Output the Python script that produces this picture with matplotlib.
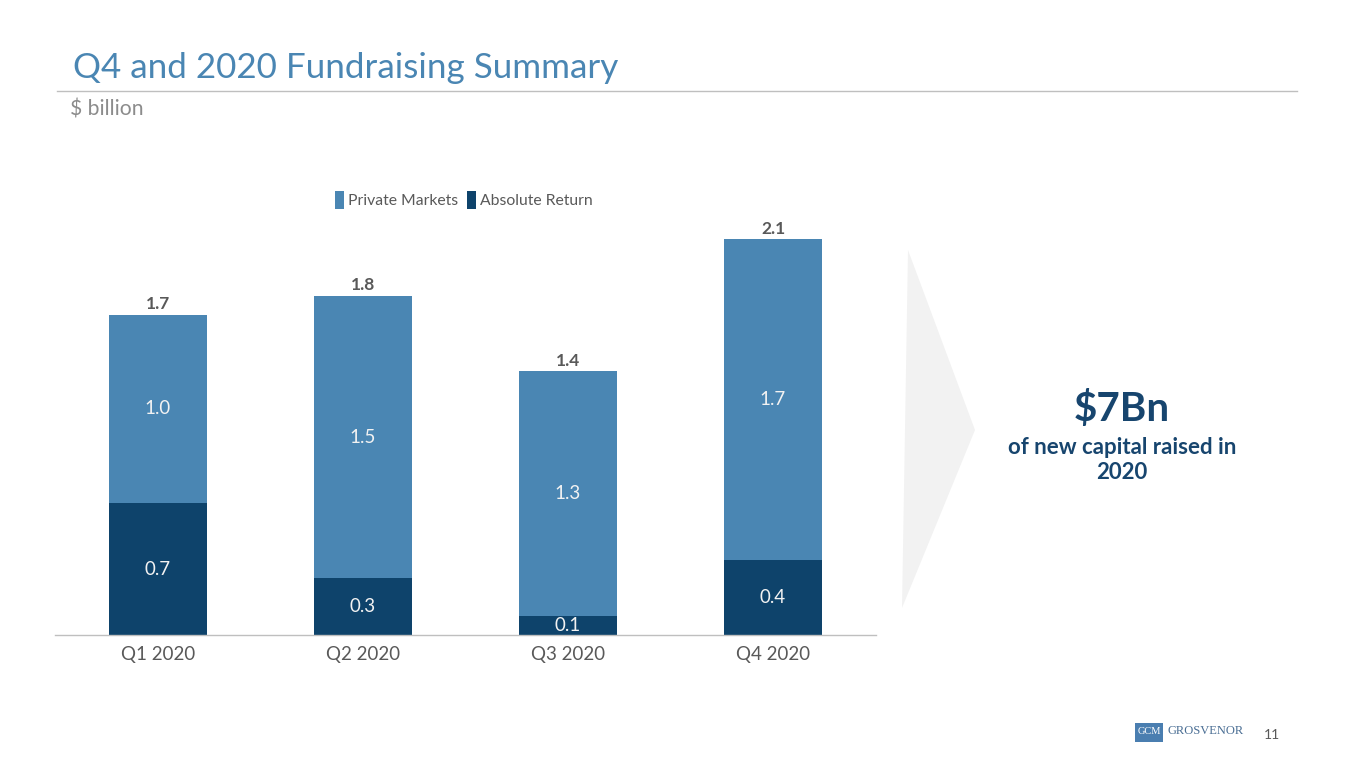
import matplotlib
matplotlib.use('Agg')
import matplotlib.pyplot as plt
from matplotlib.patches import Polygon, Rectangle
from matplotlib.lines import Line2D

plt.rcParams['font.family'] = ['Lato', 'DejaVu Sans']

quarters = ['Q1 2020', 'Q2 2020', 'Q3 2020', 'Q4 2020']
absolute_return = [0.7, 0.3, 0.1, 0.4]
private_markets = [1.0, 1.5, 1.3, 1.7]
totals = [1.7, 1.8, 1.4, 2.1]

PM_COLOR = '#4A86B3'
AR_COLOR = '#0E436B'
GRAY = '#595959'

W, H = 1365, 768


def fx(x):
    return x / W


def fy(y):
    return 1 - y / H


fig = plt.figure(figsize=(13.65, 7.68), dpi=100)

# axes: baseline at y=635, xlim -0.5..3.5 spans 55.5..875.5 px, 188.5 px per unit
ymax = 2.3
top_px = 635 - ymax * 188.5
ax = fig.add_axes([fx(55.5), fy(635), fx(875.5) - fx(55.5), fy(top_px) - fy(635)])

x = range(len(quarters))
ax.bar(x, absolute_return, width=0.478, color=AR_COLOR, label='Absolute Return', zorder=2)
ax.bar(x, private_markets, width=0.478, bottom=absolute_return, color=PM_COLOR,
       label='Private Markets', zorder=2)

for i in x:
    ax.text(i, absolute_return[i] / 2, f'{absolute_return[i]:.1f}', ha='center', va='center',
            color='#F2F2F2', fontsize=13.5)
    ax.text(i, absolute_return[i] + private_markets[i] / 2, f'{private_markets[i]:.1f}',
            ha='center', va='center', color='#F2F2F2', fontsize=13.5)
    ax.text(i, totals[i] + 0.055, f'{totals[i]:.1f}', ha='center', va='center',
            color=GRAY, fontsize=12.5, fontweight='bold')

ax.set_xlim(-0.5, 3.5)
ax.set_ylim(0, ymax)
ax.set_xticks(list(x))
ax.set_xticklabels(quarters, color=GRAY, fontsize=13.5)
ax.tick_params(axis='x', length=0, pad=8)
ax.set_yticks([])
for s in ['top', 'left', 'right']:
    ax.spines[s].set_visible(False)
ax.spines['bottom'].set_color('#BFBFBF')
ax.spines['bottom'].set_linewidth(1)

handles, labels = ax.get_legend_handles_labels()
leg = fig.legend(handles[::-1], labels[::-1], loc='center', ncol=2,
                 bbox_to_anchor=(fx(464), fy(200)), frameon=False,
                 handlelength=0.55, handleheight=1.4, handletextpad=0.25,
                 columnspacing=0.6, fontsize=11.3)
for t in leg.get_texts():
    t.set_color(GRAY)

# title and rule
fig.text(fx(73), fy(68), 'Q4 and 2020 Fundraising Summary', color='#4A86B3',
         fontsize=25.2, ha='left', va='center')
fig.add_artist(Line2D([fx(57), fx(1297)], [fy(91), fy(91)], color='#BFBFBF', lw=1))
fig.text(fx(70), fy(109), '$ billion', color='#8C8C8C', fontsize=15.2, ha='left', va='center')

# arrow
fig.add_artist(Polygon([(fx(908), fy(250)), (fx(975), fy(430)), (fx(902), fy(608))],
                       closed=True, facecolor='#F2F2F2', edgecolor='none',
                       transform=fig.transFigure))

# callout
fig.text(fx(1122), fy(409), '$7Bn', color='#17456E', fontsize=29, fontweight='bold',
         ha='center', va='center')
fig.text(fx(1122), fy(460), 'of new capital raised in\n2020', color='#17456E', fontsize=16,
         fontweight='bold', ha='center', va='center', linespacing=1.25)

# logo and page number
fig.add_artist(Rectangle((fx(1135), fy(742)), fx(28), fy(723) - fy(742),
                         facecolor='#4A7EB0', edgecolor='none', transform=fig.transFigure))
fig.text(fx(1149), fy(731), 'GCM', color='white', fontsize=7.5, family='Liberation Serif',
         ha='center', va='center')
fig.text(fx(1167), fy(731), 'GROSVENOR', color='#4A6E94', fontsize=9,
         family='Liberation Serif', ha='left', va='center')
fig.text(fx(1272), fy(735), '11', color=GRAY, fontsize=10, ha='center', va='center')

fig.savefig('out.png', dpi=100)
